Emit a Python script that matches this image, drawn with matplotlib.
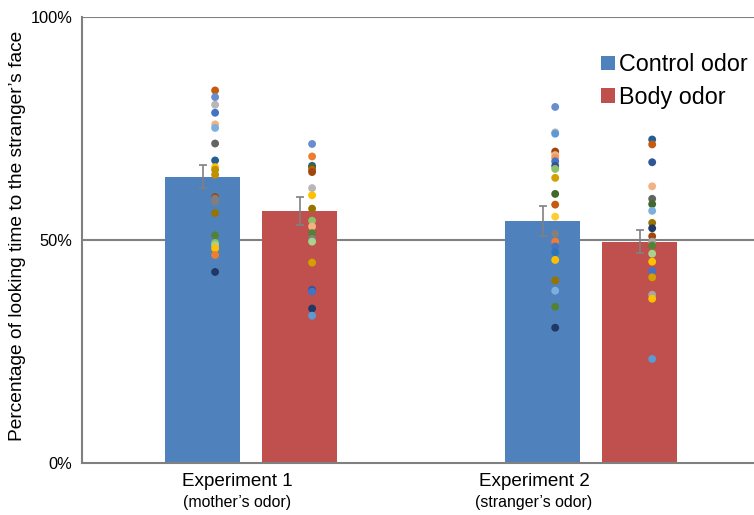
import matplotlib
matplotlib.use("Agg")
import matplotlib.pyplot as plt
from matplotlib.patches import Patch
import numpy as np

plt.rcParams['font.family'] = ['Liberation Sans', 'DejaVu Sans']

groups = ["Experiment 1", "Experiment 2"]
subtitles = ["(mother\u2019s odor)", "(stranger\u2019s odor)"]
series = ["Control odor", "Body odor"]
means_control = [64.3, 54.4]
means_body = [56.6, 49.7]
err_control = [2.6, 3.4]
err_body = [3.1, 2.6]

dots_c1 = [83.6, 82.1, 80.4, 78.6, 76.0, 75.2, 71.7, 67.9, 66.4, 65.8, 64.7,
           59.7, 59.3, 58.7, 56.1, 51.1, 49.4, 48.9, 48.2, 46.7, 42.9]
cols_c1 = ['#C55A11', '#698ED0', '#B7B7B7', '#4472C4', '#F4B183', '#7CAFDD', '#636363',
           '#255E91', '#FFC000', '#BF9000', '#BF9000', '#9E480E', '#808080', '#7F7F7F',
           '#997300', '#548235', '#8CC168', '#A9D18E', '#FFC000', '#ED7D31', '#203864']
dots_b1 = [71.6, 68.8, 66.7, 66.4, 65.8, 65.3, 61.7, 60.1, 57.1, 54.4, 53.1, 51.6,
           50.3, 49.7, 45.0, 38.9, 38.5, 34.7, 33.1]
cols_b1 = ['#698ED0', '#ED7D31', '#255E91', '#43682B', '#C55A11', '#9E480E', '#B7B7B7',
           '#FFC000', '#997300', '#8CC168', '#F4B183', '#548235', '#808080', '#A9D18E',
           '#D4A000', '#2F5597', '#4472C4', '#203864', '#5B9BD5']
dots_c2 = [79.9, 74.2, 73.9, 69.9, 69.1, 68.5, 67.7, 66.7, 66.0, 64.0, 60.4, 58.0, 55.3,
           51.5, 49.7, 48.6, 47.3, 45.6, 41.0, 38.7, 35.1, 30.4]
cols_c2 = ['#698ED0', '#B7B7B7', '#5B9BD5', '#9E480E', '#F4B183', '#F1975A', '#4472C4',
           '#2F5597', '#8CC168', '#D4A000', '#43682B', '#C55A11', '#FFCD33', '#808080',
           '#ED7D31', '#4472C4', '#2E75B6', '#FFC000', '#997300', '#7CAFDD', '#548235',
           '#203864']
dots_b2 = [72.6, 71.5, 67.5, 62.1, 59.3, 58.1, 56.6, 53.9, 52.7, 50.9, 49.7, 48.8, 47.0,
           45.2, 43.1, 41.7, 37.8, 36.9, 23.4]
cols_b2 = ['#255E91', '#C55A11', '#2F5597', '#F4B183', '#636363', '#43682B', '#7CAFDD',
           '#997300', '#203864', '#9E480E', '#A5A5A5', '#548235', '#A9D18E', '#FFC000',
           '#4472C4', '#D4A000', '#A5A5A5', '#FFC000', '#5B9BD5']

W, H = 754, 515
fig = plt.figure(figsize=(W / 100, H / 100), dpi=100)
ax = fig.add_axes([82 / W, (H - 463.3) / H, (W - 82) / W, (463.3 - 17.3) / H])

x = np.arange(len(groups))
off = 0.1426
bw = 0.22
blue = '#4F81BD'
red = '#C0504D'
gray = '#808080'

ax.bar(x - off, means_control, bw, color=blue, zorder=2)
ax.bar(x + off, means_body, bw, color=red, zorder=2)
ax.errorbar(x - off, means_control, yerr=err_control, fmt='none', ecolor=gray,
            elinewidth=1.2, capsize=3, capthick=1.2, zorder=3)
ax.errorbar(x + off, means_body, yerr=err_body, fmt='none', ecolor=gray,
            elinewidth=1.2, capsize=3, capthick=1.2, zorder=3)

dx = 0.037
for xi, vals, cols in [(x[0] - off, dots_c1, cols_c1), (x[0] + off, dots_b1, cols_b1),
                       (x[1] - off, dots_c2, cols_c2), (x[1] + off, dots_b2, cols_b2)]:
    ax.scatter([xi + dx] * len(vals), vals, s=32, c=cols, edgecolors='none', zorder=4)

for yv in [50, 100]:
    ax.axhline(yv, color=gray, lw=1.5, zorder=1)

ax.set_xlim(-0.497, 1.479)
ax.set_ylim(0, 100)
ax.set_yticks([0, 50, 100])
ax.set_yticklabels(['0%', '50%', '100%'])
ax.set_xticks([])
ax.tick_params(axis='y', length=0, pad=7, labelsize=11.8)
for s in ['top', 'right']:
    ax.spines[s].set_visible(False)
for s in ['left', 'bottom']:
    ax.spines[s].set_color(gray)
    ax.spines[s].set_linewidth(1.5)

fig.text(18 / W, (H - 236) / H, "Percentage of looking time to the stranger\u2019s face",
         rotation=90, ha='center', va='center', fontsize=13.8)

for cx, g, sub in zip([237, 534], groups, subtitles):
    fig.text(cx / W, (H - 481) / H, g, ha='center', va='center', fontsize=13.6)
    fig.text(cx / W, (H - 503) / H, sub, ha='center', va='center', fontsize=11.4)

handles = [Patch(facecolor=blue), Patch(facecolor=red)]
fig.legend(handles, series, loc='upper left', bbox_to_anchor=(601 / W, (H - 53) / H),
           frameon=False, fontsize=16.8, handlelength=0.58, handleheight=0.58,
           handletextpad=0.18, labelspacing=0.42, borderpad=0, borderaxespad=0)

fig.savefig('out.png', dpi=100)
